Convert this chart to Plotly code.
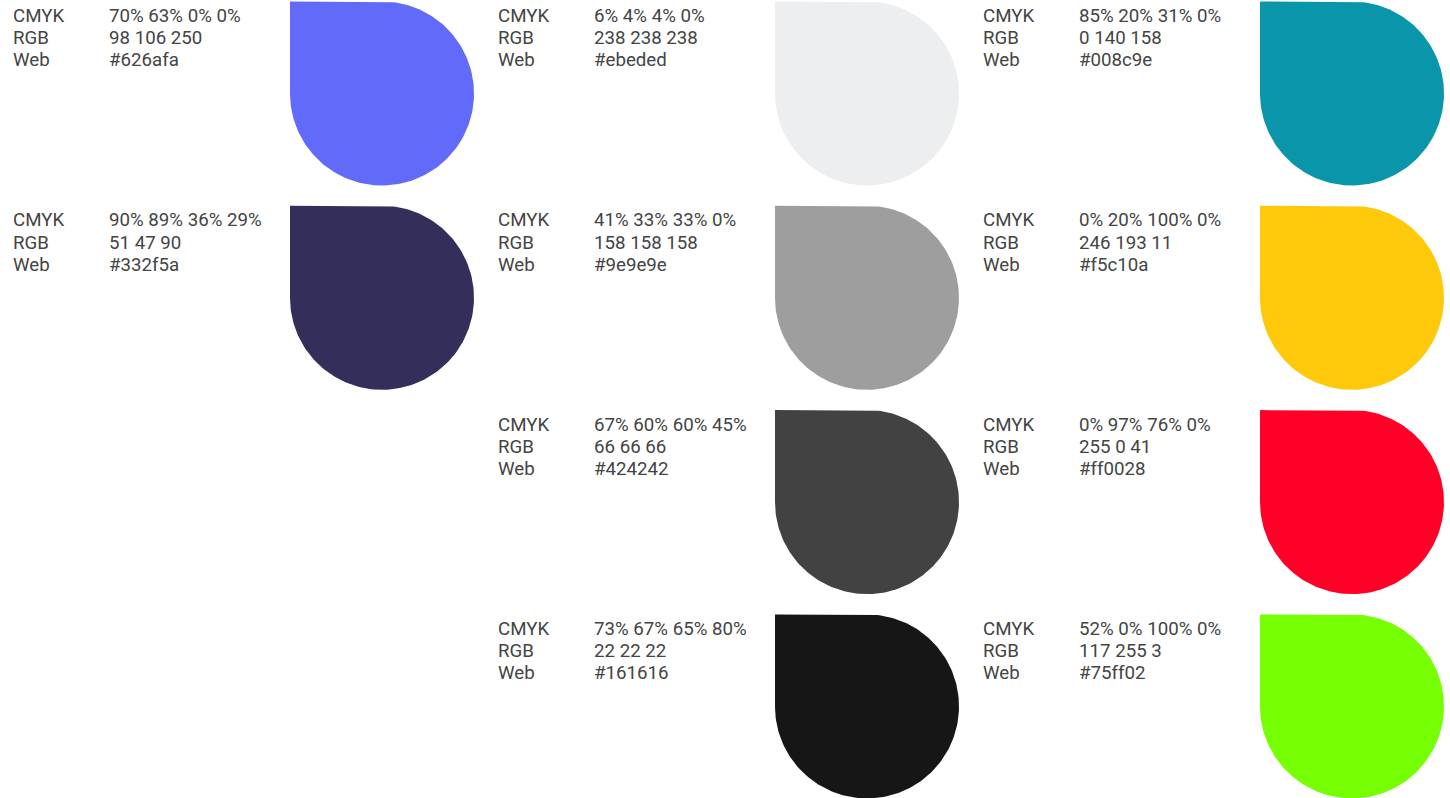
import numpy as np
import plotly.graph_objects as go

# ---- data ----
columns = [0, 0, 1, 1, 1, 1, 2, 2, 2, 2]
rows = [0, 1, 0, 1, 2, 3, 0, 1, 2, 3]
cmyk = ["70% 63% 0% 0%", "90% 89% 36% 29%",
        "6% 4% 4% 0%", "41% 33% 33% 0%", "67% 60% 60% 45%", "73% 67% 65% 80%",
        "85% 20% 31% 0%", "0% 20% 100% 0%", "0% 97% 76% 0%", "52% 0% 100% 0%"]
rgb = ["98 106 250", "51 47 90",
       "238 238 238", "158 158 158", "66 66 66", "22 22 22",
       "0 140 158", "246 193 11", "255 0 41", "117 255 3"]
web = ["#626afa", "#332f5a",
       "#ebeded", "#9e9e9e", "#424242", "#161616",
       "#008c9e", "#f5c10a", "#ff0028", "#75ff02"]
# colours as they appear on the swatches
swatch_fill = ["#626afa", "#332f5a",
               "#edeef0", "#9e9e9e", "#424242", "#161616",
               "#0a96aa", "#fec90a", "#ff0029", "#75ff02"]
labels = ["CMYK", "RGB", "Web"]

# ---- layout geometry ----
W, H = 1450, 798
COL_STEP = 485
ROW_STEP = 204.3
LABEL_X0 = 11
VALUE_DX = 96
SWATCH_X0 = 290
SWATCH_Y0 = 1.5
SIZE = 184
TEXT_Y0 = 16
LINE_H = 22.2
TEXT_COLOR = "#444444"
FONT = "Roboto"
FONT_SIZE = 18.7

fig = go.Figure()

t = np.linspace(-np.pi / 2, np.pi, 160)
for c, r, col in zip(columns, rows, swatch_fill):
    x0 = SWATCH_X0 + c * COL_STEP
    y0 = SWATCH_Y0 + r * ROW_STEP
    R = SIZE / 2
    cx, cy = x0 + R, y0 + R
    xs = [x0] + list(cx + R * np.cos(t)) + [x0, x0]
    ys = [y0] + list(cy + R * np.sin(t)) + [y0 + R, y0]
    fig.add_trace(go.Scatter(x=xs, y=ys, mode="lines", fill="toself",
                             fillcolor=col, line=dict(width=0, color=col),
                             hoverinfo="skip", showlegend=False))

annotations = []
for c, r, cm, rg, wb in zip(columns, rows, cmyk, rgb, web):
    lx = LABEL_X0 + c * COL_STEP
    vals = [cm, rg, wb]
    for i, (lab, val) in enumerate(zip(labels, vals)):
        y = TEXT_Y0 + r * ROW_STEP + i * LINE_H
        for x, txt in ((lx, lab), (lx + VALUE_DX, val)):
            annotations.append(dict(x=x, y=y, xref="x", yref="y", text=txt,
                                    showarrow=False, xanchor="left", yanchor="middle",
                                    font=dict(family=FONT, size=FONT_SIZE, color=TEXT_COLOR)))

fig.update_layout(
    width=W, height=H,
    margin=dict(l=0, r=0, t=0, b=0),
    paper_bgcolor="white", plot_bgcolor="white",
    xaxis=dict(range=[0, W], visible=False, fixedrange=True),
    yaxis=dict(range=[H, 0], visible=False, fixedrange=True),
    annotations=annotations,
    showlegend=False,
)

fig.write_html("out.html", config={"displayModeBar": False},
               post_script="document.body.style.margin='0';document.body.style.overflow='hidden';")
